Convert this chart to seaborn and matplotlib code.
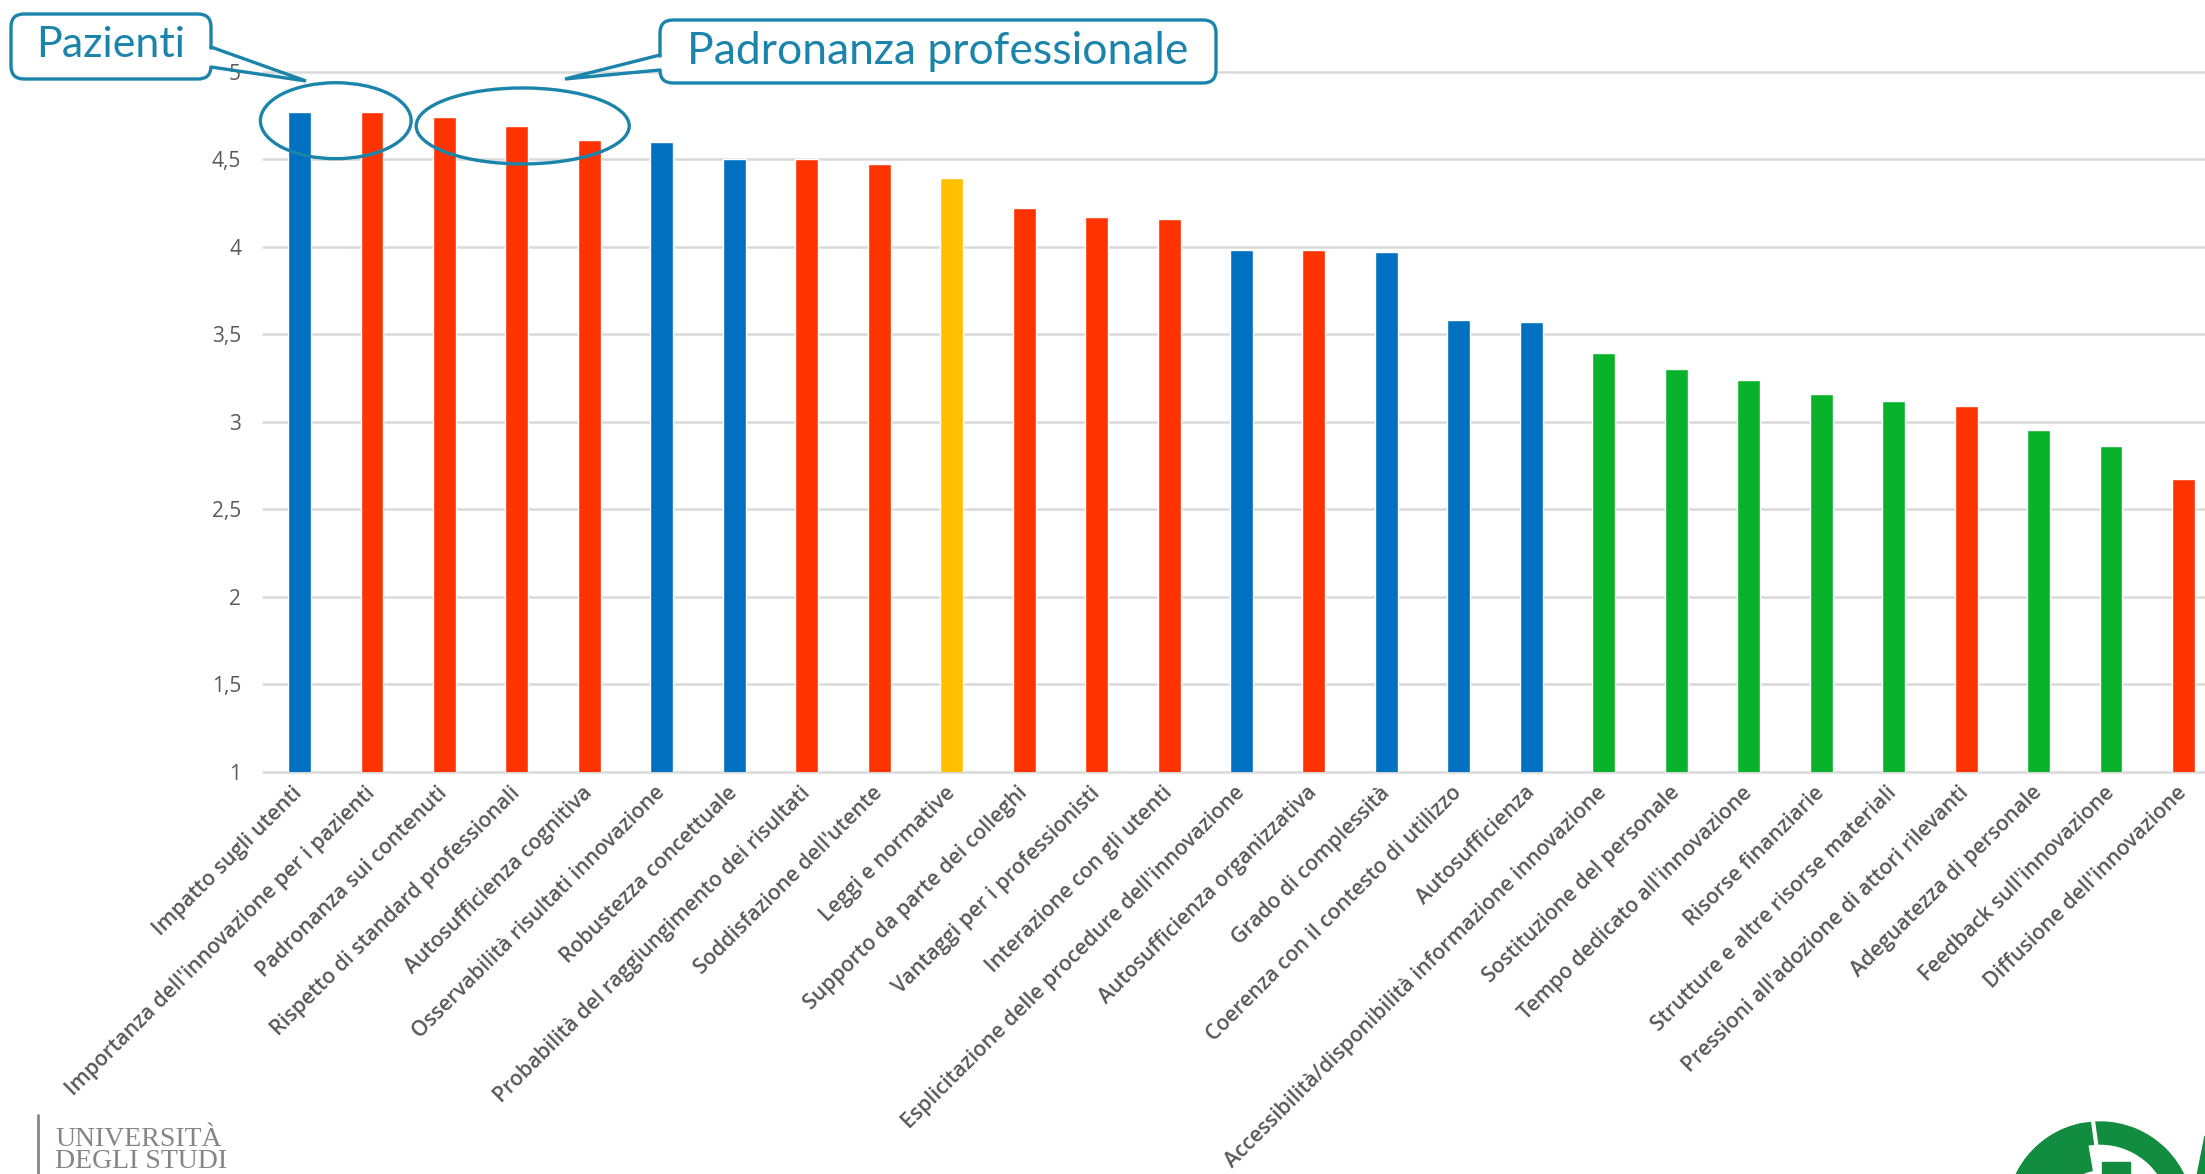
import numpy as np
import pandas as pd
import matplotlib
matplotlib.use("Agg")
import matplotlib.pyplot as plt
import seaborn as sns
from matplotlib.patches import FancyBboxPatch, Ellipse, Wedge, Rectangle, Arc, Polygon

# ---- data -------------------------------------------------------------
categories = [
    "Impatto sugli utenti",
    "Importanza dell'innovazione per i pazienti",
    "Padronanza sui contenuti",
    "Rispetto di standard professionali",
    "Autosufficienza cognitiva",
    "Osservabilità risultati innovazione",
    "Robustezza concettuale",
    "Probabilità del raggiungimento dei risultati",
    "Soddisfazione dell'utente",
    "Leggi e normative",
    "Supporto da parte dei colleghi",
    "Vantaggi per i professionisti",
    "Interazione con gli utenti",
    "Esplicitazione delle procedure dell'innovazione",
    "Autosufficienza organizzativa",
    "Grado di complessità",
    "Coerenza con il contesto di utilizzo",
    "Autosufficienza",
    "Accessibilità/disponibilità informazione innovazione",
    "Sostituzione del personale",
    "Tempo dedicato all'innovazione",
    "Risorse finanziarie",
    "Strutture e altre risorse materiali",
    "Pressioni all'adozione di attori rilevanti",
    "Adeguatezza di personale",
    "Feedback sull'innovazione",
    "Diffusione dell'innovazione",
]
values = [4.77, 4.77, 4.74, 4.69, 4.61, 4.60, 4.50, 4.50, 4.47, 4.39,
          4.22, 4.17, 4.16, 3.98, 3.98, 3.97, 3.58, 3.57, 3.39, 3.30,
          3.24, 3.16, 3.12, 3.09, 2.95, 2.86, 2.67]
groups = ["innovazione", "professionisti", "professionisti", "professionisti",
          "professionisti", "innovazione", "innovazione", "professionisti",
          "professionisti", "contesto", "professionisti", "professionisti",
          "professionisti", "innovazione", "professionisti", "innovazione",
          "innovazione", "innovazione", "organizzazione", "organizzazione",
          "organizzazione", "organizzazione", "organizzazione", "professionisti",
          "organizzazione", "organizzazione", "professionisti"]
group_colors = {
    "innovazione": "#0070C0",
    "professionisti": "#FF3300",
    "contesto": "#FFC000",
    "organizzazione": "#09B22B",
}
yticks = [1, 1.5, 2, 2.5, 3, 3.5, 4, 4.5, 5]
ytick_labels = ["1", "1,5", "2", "2,5", "3", "3,5", "4", "4,5", "5"]

# ---- figure -----------------------------------------------------------
W, H, DPI = 2205, 1174, 100
sns.set_theme(style="white")
plt.rcParams["font.family"] = ["Open Sans", "DejaVu Sans"]

fig = plt.figure(figsize=(W / DPI, H / DPI), dpi=DPI)
fig.patch.set_facecolor("white")


def px_rect(x0, y0, x1, y1):
    return [x0 / W, 1 - y1 / H, (x1 - x0) / W, (y1 - y0) / H]


ax = fig.add_axes(px_rect(263.3, 71.7, 2219.7, 771.7))
df = pd.DataFrame({"fattore": categories, "media": values, "gruppo": groups})
sns.barplot(data=df, x="fattore", y="media", hue="gruppo", palette=group_colors,
            dodge=False, width=0.317, saturation=1, legend=False, ax=ax,
            zorder=2)

ax.set_xlim(-0.5, len(categories) - 0.5)
ax.set_ylim(1, 5)
for s in ax.spines.values():
    s.set_visible(False)
grid_c = "#D9D9D9"
for yv in yticks:
    ax.axhline(yv, color=grid_c, lw=1.8, zorder=0.5, clip_on=False)

ax.tick_params(axis="both", length=0)
ax.set_yticks(yticks)
ax.set_yticklabels(ytick_labels, fontsize=15, color="#595959")
ax.tick_params(axis="y", pad=16)
ax.set_xticks(range(len(categories)))
ax.set_xticklabels(categories, rotation=45, ha="right", va="center",
                   rotation_mode="anchor", fontsize=15.2, fontweight="semibold",
                   color="#585858")
ax.tick_params(axis="x", pad=13)
ax.set_xlabel("")
ax.set_ylabel("")

# ---- highlights on the top bars --------------------------------------
teal = "#1B84AA"
ax.add_patch(Ellipse((0.5, 4.72), 2.08, 0.434, fill=False, ec=teal, lw=2.4,
                     clip_on=False, zorder=5))
ax.add_patch(Ellipse((3.08, 4.69), 2.94, 0.434, fill=False, ec=teal, lw=2.4,
                     clip_on=False, zorder=5))

# ---- overlay in pixel units for callouts and logos -------------------
ov = fig.add_axes([0, 0, 1, 1])
ov.set_xlim(0, W)
ov.set_ylim(H, 0)
ov.axis("off")
ov.set_zorder(6)


def callout(x0, y0, x1, y1, side, base, tip, text, ty, fs):
    ov.add_patch(FancyBboxPatch((x0, y0), x1 - x0, y1 - y0,
                                boxstyle="round,pad=0,rounding_size=13",
                                fc="white", ec=teal, lw=2.4))
    bx = x1 if side == "right" else x0
    # open the border where the pointer leaves the box
    ov.plot([bx, bx], [base[0] + 1.5, base[1] - 1.5], color="white", lw=3.5,
            solid_capstyle="butt")
    ov.plot([bx, tip[0], bx], [base[0], tip[1], base[1]], color=teal, lw=2.4,
            solid_joinstyle="miter")
    ov.text((x0 + x1) / 2, ty, text, ha="center", va="center", fontsize=fs,
            color=teal, family=["Lato", "DejaVu Sans"])


callout(11, 14, 211, 79, "right", (47, 67), (306, 81), "Pazienti", 45, 31)
callout(660, 20, 1216, 83, "left", (55, 70), (565, 79),
        "Padronanza professionale", 51, 32)

# university mark, bottom left
gray = "#858585"
ov.plot([38, 38], [1115, 1180], color=gray, lw=2)
ov.text(55, 1139, "UNIVERSITÀ", family=["Liberation Serif", "DejaVu Serif"],
        fontsize=20, color=gray, va="center", ha="left")
ov.text(55, 1162, "DEGLI STUDI", family=["Liberation Serif", "DejaVu Serif"],
        fontsize=20, color=gray, va="center", ha="left")
ov.add_patch(Arc((-38, 1195), 90, 90, theta1=0, theta2=80, color="#C8C8C8", lw=2))

# green seal, bottom right
green = "#128C3F"
ov.add_patch(Wedge((2100, 1215), 93, 0, 360, width=22, color=green))
ov.add_patch(Wedge((2100, 1215), 93, 95, 260, width=48, color=green))
ov.plot([2093, 2097], [1121, 1150], color="white", lw=3)
ov.add_patch(Rectangle((2102, 1162), 28, 14, color=green))
ov.add_patch(Polygon([(2205, 1136), (2197, 1176), (2205, 1176)], closed=True,
                     color=green))

fig.savefig("out.png", dpi=DPI, facecolor="white")
